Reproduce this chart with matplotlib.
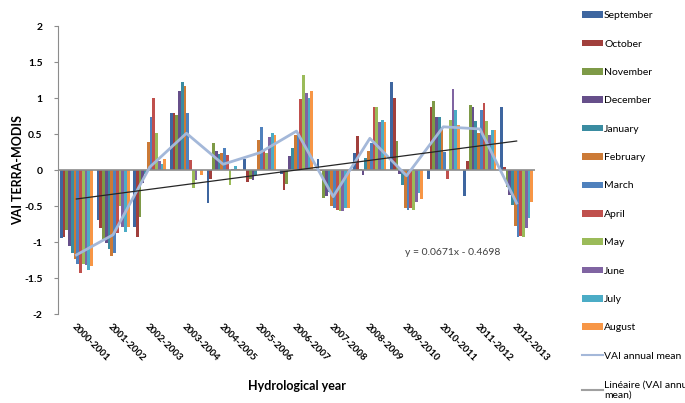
import numpy as np
import matplotlib
matplotlib.use("Agg")
import matplotlib.pyplot as plt
from matplotlib.lines import Line2D
from matplotlib.patches import Patch

years = ["2000-2001", "2001-2002", "2002-2003", "2003-2004", "2004-2005", "2005-2006",
         "2006-2007", "2007-2008", "2008-2009", "2009-2010", "2010-2011", "2011-2012",
         "2012-2013"]
months = ["September", "October", "November", "December", "January", "February",
          "March", "April", "May", "June", "July", "August"]

september = [-0.95, -0.70, -0.79, 0.79, -0.46, 0.15, -0.06, 0.15, 0.24, 1.22, -0.13, -0.36, 0.87]
october   = [-0.93, -0.81, -0.93, 0.79, -0.12, -0.16, -0.28, -0.02, 0.47, 1.00, 0.87, 0.13, 0.04]
november  = [-0.83, -0.96, -0.65, 0.76, 0.37, -0.13, -0.19, -0.39, 0.02, 0.40, 0.96, 0.90, -0.23]
december  = [-1.06, -1.01, -0.18, 1.10, 0.27, -0.14, 0.19, -0.36, -0.07, -0.06, 0.74, 0.88, -0.35]
january   = [-1.15, -1.10, -0.05, 1.22, 0.22, -0.07, 0.30, -0.30, 0.16, -0.21, 0.74, 0.68, -0.49]
february  = [-1.23, -1.20, 0.39, 1.17, 0.24, 0.42, 0.49, -0.50, 0.26, -0.53, 0.60, 0.51, -0.78]
march     = [-1.30, -1.15, 0.74, 0.79, 0.31, 0.60, 0.50, -0.53, 0.37, -0.56, 0.25, 0.84, -0.93]
april     = [-1.43, -0.88, 1.00, 0.14, 0.21, 0.29, 0.98, -0.55, 0.87, -0.53, -0.12, 0.93, -0.91]
may       = [-1.30, -0.50, 0.51, -0.25, -0.21, 0.23, 1.32, -0.57, 0.88, -0.56, 0.69, 0.68, -0.93]
june      = [-1.32, -0.79, 0.12, -0.14, 0.02, 0.46, 1.07, -0.57, 0.66, -0.44, 1.12, 0.49, -0.81]
july      = [-1.39, -0.86, 0.09, 0.00, 0.05, 0.51, 1.00, -0.53, 0.70, -0.32, 0.84, 0.56, -0.67]
august    = [-1.33, -0.79, 0.15, -0.07, 0.01, 0.49, 1.10, -0.53, 0.66, -0.40, 0.62, 0.56, -0.45]

annual_mean = [-1.18, -0.90, 0.04, 0.51, 0.08, 0.24, 0.54, -0.37, 0.44, -0.08, 0.60, 0.57, -0.46]

trend_slope = 0.0671
trend_intercept = -0.4698

series = [september, october, november, december, january, february,
          march, april, may, june, july, august]
colors = ["#3E66A0", "#A13F3C", "#7E9A47", "#664F8A", "#3A8CA1", "#CC7A36",
          "#4F81BD", "#C0504D", "#9BBB59", "#8064A2", "#4BACC6", "#F79646"]

plt.rcParams['font.family'] = ['Lato', 'DejaVu Sans']

fig = plt.figure(figsize=(6.85, 4.03), dpi=100)
ax = fig.add_axes([58/685, 89/403, 477/685, 288/403])

x = np.arange(len(years))
group_w = 0.9
bw = group_w / len(series)
for i, (vals, c) in enumerate(zip(series, colors)):
    ax.bar(x - group_w/2 + bw*(i + 0.5), vals, width=bw, color=c, linewidth=0, zorder=2)

ax.axhline(0, color="#8c8c8c", lw=1.2, zorder=3)
ax.plot(x, annual_mean, color="#A4B8D9", lw=2, zorder=4)
xt = np.array([x[0], x[-1]])
ax.plot(xt, trend_slope*(xt + 1) + trend_intercept, color="#262626", lw=0.9, zorder=5)

ax.text(10.25, -1.15, "y = 0.0671x - 0.4698", fontsize=7.5, color="#404040",
        ha="center", va="center")

ax.set_xlim(-0.5, len(years) - 0.5)
ax.set_ylim(-2, 2)
ax.set_yticks(np.arange(-2, 2.01, 0.5))
ax.set_yticklabels(["-2", "-1.5", "-1", "-0.5", "0", "0.5", "1", "1.5", "2"],
                   fontsize=7.5, fontweight="bold")
ax.set_xticks(x)
ax.set_xticklabels(years, rotation=-45, ha="left", va="top", rotation_mode="anchor",
                   fontsize=7, fontweight="bold")
ax.tick_params(axis="x", length=0, pad=6)
ax.tick_params(axis="y", length=3, color="#8c8c8c", pad=8)
for s in ["top", "right", "bottom"]:
    ax.spines[s].set_visible(False)
ax.spines["left"].set_color("#8c8c8c")

ax.set_ylabel("VAI TERRA-MODIS", fontsize=9, fontweight="bold", labelpad=0)
ax.set_xlabel("Hydrological year", fontsize=9, fontweight="bold", labelpad=12)

handles = [Patch(facecolor=c, edgecolor="none") for c in colors]
handles += [Line2D([0], [0], color="#A4B8D9", lw=1.5),
            Line2D([0], [0], color="#a0a0a0", lw=1.5)]
labels = months + ["VAI annual mean", "Linéaire (VAI annual\nmean)"]
fig.legend(handles, labels, loc="upper left", bbox_to_anchor=(576/685, 1 - 5/403),
           frameon=False, fontsize=7.5, labelspacing=1.86, handlelength=2.0,
           handleheight=0.6, handletextpad=0.1, borderaxespad=0.2)

fig.savefig("out.png", dpi=100)
